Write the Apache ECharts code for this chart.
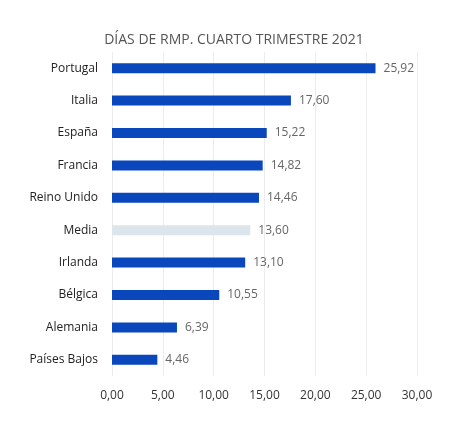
<!DOCTYPE html>
<html><head><meta charset="utf-8">
<script src="https://cdn.jsdelivr.net/npm/echarts@6/dist/echarts.min.js"></script>
<style>html,body{margin:0;padding:0;background:#fff}#c{width:468px;height:421px}</style>
</head><body><div id="c"></div>
<script>
var categories = ["Portugal","Italia","España","Francia","Reino Unido","Media","Irlanda","Bélgica","Alemania","Países Bajos"];
var values = [25.92,17.60,15.22,14.82,14.46,13.60,13.10,10.55,6.39,4.46];
var highlight = "Media";
var chart = echarts.init(document.getElementById('c'));
var fmt = function(v){ return Number(v).toFixed(2).replace('.', ','); };
chart.setOption({
  animation:false,
  title:{text:"DÍAS DE RMP. CUARTO TRIMESTRE 2021",left:'center',top:28,
    textStyle:{fontFamily:'Open Sans',fontSize:14,fontWeight:'normal',color:'#555'}},
  grid:{left:112,right:51,top:52,bottom:45,containLabel:false},
  xAxis:{type:'value',min:0,max:30,interval:5,
    axisLine:{show:false},axisTick:{show:false},
    splitLine:{lineStyle:{color:'#ececec'}},
    axisLabel:{formatter:fmt,margin:14,fontFamily:'Open Sans',fontSize:12,color:'#333'}},
  yAxis:{type:'category',inverse:true,data:categories,
    axisLine:{show:false},axisTick:{show:false},
    axisLabel:{margin:14,fontFamily:'Open Sans',fontSize:12,color:'#222'}},
  series:[{type:'bar',barWidth:10,
    data:values.map(function(v,i){return {value:v,itemStyle:{color:categories[i]===highlight?'#dce4ec':'#0a47bc'}};}),
    label:{show:true,position:'right',distance:8,formatter:function(p){return fmt(p.value);},
      fontFamily:'Open Sans',fontSize:12,color:'#666'}}]
});
</script></body></html>
